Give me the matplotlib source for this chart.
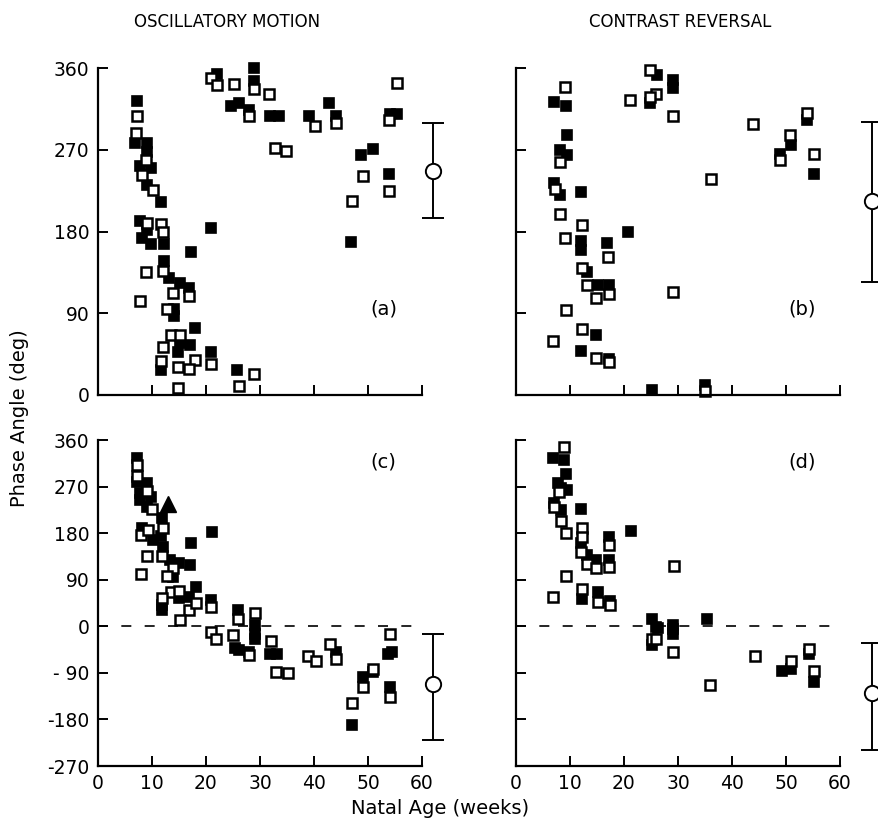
import matplotlib
matplotlib.use("Agg")
import matplotlib.pyplot as plt

plt.rcParams["font.family"] = ["DejaVu Sans"]

# panel (a): oscillatory motion, phase 0..360
a_open_x = [7.2, 7.0, 8.9, 8.1, 10.1, 9.0, 11.6, 20.9, 22.1, 25.1, 28.9, 31.7, 28.0, 32.8, 34.8,
            40.1, 44.0, 55.3, 53.9, 49.0, 53.9, 47.0, 12.0, 8.9, 12.0, 16.9, 13.9, 7.8, 12.8, 13.6,
            15.2, 12.0, 18.0, 11.7, 14.8, 16.9, 20.9, 28.9, 26.2, 14.9]
a_open_y = [307, 288, 259, 242, 226, 189, 188, 349, 341, 342, 337, 331, 307, 272, 269,
            296, 299, 343, 303, 241, 225, 214, 179, 135, 137, 109, 112, 104, 95, 66,
            66, 53, 39, 37, 31, 29, 34, 23, 10, 8]
a_fill_x = [7.2, 6.9, 9.0, 9.0, 7.8, 9.9, 9.1, 11.6, 7.7, 21.0, 22.0, 28.9, 28.9, 24.6, 26.2,
            28.0, 31.9, 33.5, 39.1, 42.8, 44.0, 54.1, 55.3, 50.9, 48.7, 53.9, 46.8, 9.0, 8.1,
            9.9, 12.2, 17.2, 12.2, 13.2, 15.1, 16.9, 14.1, 14.1, 18.0, 15.1, 17.0, 14.9, 20.9,
            11.7, 25.8]
a_fill_y = [324, 277, 277, 268, 252, 250, 231, 212, 192, 184, 353, 360, 346, 318, 321,
            314, 307, 307, 307, 322, 307, 309, 309, 271, 264, 243, 168, 182, 173,
            166, 166, 157, 148, 129, 123, 118, 95, 87, 74, 57, 55, 47, 47,
            28, 28]

# panel (b): contrast reversal, phase 0..360
b_open_x = [9.1, 8.1, 7.2, 8.1, 12.2, 21.1, 24.8, 26.0, 24.8, 29.0, 43.9, 53.8, 50.8, 48.8, 55.2,
            36.1, 29.0, 35.0, 9.1, 17.1, 12.2, 13.2, 17.2, 14.9, 9.2, 12.2, 6.9, 14.8, 17.3]
b_open_y = [339, 256, 227, 199, 187, 325, 358, 331, 328, 307, 298, 310, 286, 259, 265,
            238, 113, 4, 173, 152, 140, 121, 111, 107, 94, 73, 59, 41, 36]
b_fill_x = [7.1, 9.3, 9.4, 8.1, 9.5, 7.1, 8.1, 12.0, 20.8, 26.2, 24.9, 29.1, 29.1, 53.8, 51.0,
            48.8, 55.2, 35.0, 12.0, 12.0, 16.8, 13.1, 15.1, 17.3, 14.9, 12.0, 17.3, 25.2]
b_fill_y = [323, 318, 286, 270, 264, 233, 220, 224, 180, 352, 321, 347, 338, 303, 275,
            265, 243, 11, 169, 160, 167, 135, 121, 121, 66, 48, 40, 6]

# panel (c): oscillatory motion, unwrapped phase
c_open_x = [7.2, 7.2, 9.1, 10.0, 12.0, 7.9, 9.3, 11.8, 9.1, 13.9, 7.9, 12.8, 13.6, 15.0, 11.8,
            16.9, 18.1, 21.0, 15.2, 25.9, 29.0, 21.0, 21.9, 25.0, 28.0, 32.1, 33.0, 35.1, 38.9,
            40.3, 43.0, 44.0, 54.0, 51.0, 49.1, 47.1, 54.0]
c_open_y = [312, 290, 262, 226, 189, 177, 187, 135, 136, 113, 102, 97, 66, 68, 54,
            31, 45, 37, 13, 15, 26, -11, -24, -17, -56, -29, -88, -90, -58,
            -67, -35, -64, -15, -83, -117, -148, -137]
c_fill_x = [7.2, 7.2, 9.1, 7.8, 7.8, 9.9, 9.0, 11.8, 8.1, 10.1, 11.6, 12.0, 17.2, 21.2, 13.3,
            15.0, 17.0, 13.9, 18.1, 15.0, 16.9, 11.8, 11.8, 21.0, 25.9, 29.0, 29.0, 29.0, 25.3,
            26.2, 28.0, 31.8, 33.2, 44.0, 53.7, 54.5, 51.0, 49.0, 47.0, 54.0]
c_fill_y = [326, 279, 276, 257, 244, 250, 231, 210, 189, 166, 174, 153, 161, 183, 129,
            123, 118, 95, 76, 54, 57, 41, 31, 50, 31, 2, -15, -25, -41,
            -45, -50, -53, -53, -50, -54, -50, -88, -98, -190, -117]
c_tri_x = [12.9]
c_tri_y = [237]

# panel (d): contrast reversal, unwrapped phase
d_open_x = [8.8, 8.0, 7.1, 8.3, 9.2, 12.2, 12.2, 12.0, 13.1, 14.9, 17.2, 17.2, 9.2, 29.3, 6.9,
            12.2, 15.2, 17.4, 25.1, 26.0, 29.1, 35.9, 44.3, 51.0, 54.3, 55.2]
d_open_y = [347, 260, 230, 204, 181, 190, 173, 144, 121, 112, 157, 115, 97, 117, 57,
            73, 46, 41, -24, -24, -50, -114, -57, -67, -43, -86]
d_fill_x = [6.9, 8.8, 9.2, 7.8, 8.3, 9.4, 7.1, 8.3, 12.0, 21.3, 12.0, 13.1, 14.9, 17.2, 17.2,
            12.3, 15.2, 17.4, 25.1, 26.0, 29.1, 25.1, 26.3, 29.1, 29.1, 35.3, 49.2, 51.0, 54.3,
            55.2]
d_fill_y = [326, 321, 294, 276, 268, 263, 239, 224, 226, 184, 160, 137, 128, 172, 128,
            52, 66, 49, 15, -1, 2, -37, -4, -5, -15, 15, -86, -82, -53,
            -108]

# mean phase with spread, drawn beside each panel
err_x = [62, 66, 62, 66]
err_mean = [247, 214, -112, -129]
err_lo = [195, 124, -219, -239]
err_hi = [300, 301, -15, -32]

x_ticks = [0, 10, 20, 30, 40, 50, 60]
y_ticks_top = [0, 90, 180, 270, 360]
y_ticks_bot = [-270, -180, -90, 0, 90, 180, 270, 360]
y_labels_bot = ["-270", "-180", "- 90", "0", "90", "180", "270", "360"]

W, H = 879, 825
fig = plt.figure(figsize=(W / 100, H / 100), dpi=100)


def make_ax(x0, y_top, y_bot):
    return fig.add_axes([x0 / W, 1 - y_bot / H, 324 / W, (y_bot - y_top) / H])


ax_a = make_ax(98, 68, 395)
ax_b = make_ax(516, 68, 395)
ax_c = make_ax(98, 440, 766)
ax_d = make_ax(516, 440, 766)

panels = [
    (ax_a, a_open_x, a_open_y, a_fill_x, a_fill_y, "(a)", (0, 360), y_ticks_top),
    (ax_b, b_open_x, b_open_y, b_fill_x, b_fill_y, "(b)", (0, 360), y_ticks_top),
    (ax_c, c_open_x, c_open_y, c_fill_x, c_fill_y, "(c)", (-270, 360), y_ticks_bot),
    (ax_d, d_open_x, d_open_y, d_fill_x, d_fill_y, "(d)", (-270, 360), y_ticks_bot),
]

for i, (ax, ox, oy, fx, fy, tag, ylim, yt) in enumerate(panels):
    ax.plot(fx, fy, "s", ms=6.8, mfc="black", mec="black", mew=1.2, clip_on=False)
    ax.plot(ox, oy, "s", ms=6.8, mfc="white", mec="black", mew=1.8, clip_on=False)
    ax.set_xlim(0, 60)
    ax.set_ylim(*ylim)
    ax.set_xticks(x_ticks)
    ax.set_yticks(yt)
    for s in ["top", "right"]:
        ax.spines[s].set_visible(False)
    for s in ["left", "bottom"]:
        ax.spines[s].set_linewidth(1.6)
    ax.tick_params(direction="in", length=7, width=1.4, labelsize=13.5, pad=6)
    if ylim[0] < 0:
        ax.axhline(0, xmax=59 / 60, color="black", lw=1.2, ls=(0, (6, 8)), zorder=0)
        ax.text(50.5, 318, tag, fontsize=14, ha="left", va="center")
    else:
        ax.text(50.5, 95, tag, fontsize=14, ha="left", va="center")

    ax.errorbar([err_x[i]], [err_mean[i]],
                yerr=[[err_mean[i] - err_lo[i]], [err_hi[i] - err_mean[i]]],
                fmt="o", ms=11, mfc="white", mec="black", mew=1.4, color="black",
                elinewidth=1.4, capsize=8, capthick=1.4, clip_on=False)

ax_a.tick_params(labelbottom=False)
ax_b.tick_params(labelbottom=False, labelleft=False)
ax_d.tick_params(labelleft=False)
ax_c.set_yticklabels(y_labels_bot)
ax_c.plot(c_tri_x, c_tri_y, "^", ms=12, color="black", clip_on=False)

fig.text(227 / W, 1 - 22 / H, "OSCILLATORY MOTION", fontsize=12, ha="center", va="center")
fig.text(680 / W, 1 - 22 / H, "CONTRAST REVERSAL", fontsize=12, ha="center", va="center")
fig.text(20 / W, 1 - 418 / H, "Phase Angle (deg)", fontsize=14, rotation=90,
         ha="center", va="center")
fig.text(440 / W, 1 - 808 / H, "Natal Age (weeks)", fontsize=14, ha="center", va="center")

fig.savefig("out.png", dpi=100)
